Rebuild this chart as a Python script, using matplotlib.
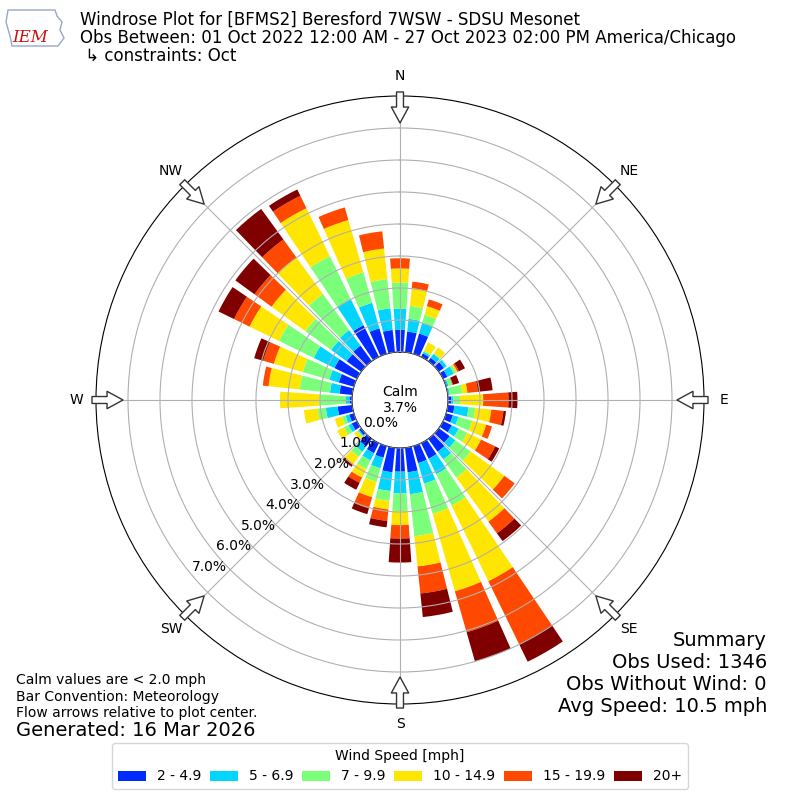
import numpy as np
import matplotlib
matplotlib.use("Agg")
import matplotlib.pyplot as plt
from matplotlib.patches import Patch, Polygon

# ---------------- data (percent of observations, cumulative per speed bin) -------------
directions = [0, 10, 20, 30, 40, 50, 60, 70, 80, 90, 100, 110, 120, 130, 140, 150, 160, 170,
              180, 190, 200, 210, 220, 230, 240, 250, 260, 270, 280, 290, 300, 310, 320, 330, 340, 350]

cum_2_4_9 = [0.70, 0.65, 0.66, 0.12, 0.13, 0.20, 0.15, 0.03, 0.02, 0.10, 0.21, 0.22, 0.30, 0.42, 0.50, 0.54, 0.55, 0.77,
             0.74, 0.77, 0.38, 0.35, 0.30, 0.08, 0.18, 0.15, 0.46, 0.08, 0.40, 0.49, 0.78, 0.56, 0.60, 1.10, 0.83, 0.70]
cum_5_6_9 = [1.35, 1.05, 1.00, 0.18, 0.28, 0.30, 0.37, 0.08, 0.06, 0.17, 0.65, 0.40, 0.54, 0.64, 0.80, 1.08, 1.22, 1.46,
             1.42, 1.36, 0.72, 0.60, 0.50, 0.12, 0.29, 0.27, 0.83, 0.19, 0.70, 0.80, 1.50, 1.16, 1.20, 2.00, 1.66, 1.38]
cum_7_9_9 = [2.17, 1.46, 1.27, 0.22, 0.31, 0.32, 0.45, 0.20, 0.46, 0.38, 0.87, 0.85, 0.84, 1.23, 1.50, 2.17, 2.20, 2.78,
             1.97, 1.67, 1.16, 0.90, 0.70, 0.15, 0.45, 0.38, 1.09, 1.02, 1.65, 1.66, 2.71, 2.16, 2.60, 3.50, 2.65, 2.30]
cum_10_14_9 = [2.61, 2.01, 1.55, 0.50, 0.53, 0.32, 0.50, 0.20, 0.62, 1.10, 1.37, 1.30, 1.32, 2.53, 3.20, 4.80, 4.72, 3.73,
               2.41, 1.94, 1.66, 1.20, 0.98, 0.27, 0.68, 0.62, 1.52, 2.25, 2.63, 2.60, 3.73, 3.46, 4.00, 5.17, 4.35, 3.26]
cum_15_19_9 = [2.93, 2.22, 1.77, 0.50, 0.53, 0.32, 0.55, 0.22, 0.95, 1.89, 1.75, 1.49, 1.81, 2.93, 3.65, 6.98, 6.05, 4.58,
               2.83, 2.30, 2.02, 1.38, 1.00, 0.27, 0.68, 0.62, 1.52, 2.25, 2.81, 2.95, 4.27, 4.12, 4.70, 5.60, 4.76, 3.80]
cum_20_plus = [2.93, 2.22, 1.77, 0.50, 0.53, 0.32, 0.76, 0.42, 1.41, 2.17, 1.83, 1.49, 1.95, 2.93, 3.95, 7.60, 7.00, 5.32,
               3.58, 2.50, 2.21, 1.62, 1.08, 0.27, 0.68, 0.62, 1.52, 2.25, 2.81, 3.24, 4.81, 4.86, 5.88, 5.82, 4.76, 3.80]

speed_labels = ["2 - 4.9", "5 - 6.9", "7 - 9.9", "10 - 14.9", "15 - 19.9", "20+"]
speed_colors = ["#002aff", "#00d4ff", "#7bff7b", "#ffe600", "#ff4800", "#800000"]
calm_pct = 3.7
r_ticks = [0, 1, 2, 3, 4, 5, 6, 7]
compass_labels = ["N", "NE", "E", "SE", "S", "SW", "W", "NW"]
compass_angles = [0, 45, 90, 135, 180, 225, 270, 315]

title_lines = ["Windrose Plot for [BFMS2] Beresford 7WSW - SDSU Mesonet",
               "Obs Between: 01 Oct 2022 12:00 AM - 27 Oct 2023 02:00 PM America/Chicago",
               " \u21b3 constraints: Oct"]
left_notes = ["Calm values are < 2.0 mph", "Bar Convention: Meteorology",
              "Flow arrows relative to plot center."]
generated = "Generated: 16 Mar 2026"
summary_lines = ["Summary", "Obs Used: 1346", "Obs Without Wind: 0", "Avg Speed: 10.5 mph"]

# ---------------- figure ----------------
W = H = 800
fig = plt.figure(figsize=(8, 8), dpi=100)

def fx(px):
    return px / W

def fy(py):
    return 1 - py / H

ax = fig.add_axes([0.12, 0.12, 0.76, 0.76], projection="polar")
ax.set_theta_zero_location("N")
ax.set_theta_direction(-1)
ax.set_rorigin(-1.5)
ax.set_ylim(0, 8)

cums = [cum_2_4_9, cum_5_6_9, cum_7_9_9, cum_10_14_9, cum_15_19_9, cum_20_plus]
theta = np.deg2rad(directions)
width = np.deg2rad(10) * 0.8
bottom = np.zeros(len(directions))
for vals, col, lab in zip(cums, speed_colors, speed_labels):
    top = np.array(vals)
    ax.bar(theta, top - bottom, width=width, bottom=bottom, color=col,
           edgecolor="none", label=lab, zorder=1)
    bottom = top

ax.set_xticks(np.deg2rad(compass_angles))
ax.set_xticklabels([])
ax.set_yticks(r_ticks)
ax.set_yticklabels([])
ax.set_axisbelow(False)
ax.grid(True, color="#b0b0b0", lw=0.8)

# radial labels
for k in r_ticks:
    ax.annotate(f"{k:.1f}%", xy=(np.deg2rad(230), k - 0.584), xytext=(2.5, -2.9),
                textcoords="offset points", ha="center", va="center", fontsize=10,
                annotation_clip=False)

# calm text
ax.text(0.5, 0.5, f"Calm\n{calm_pct:.1f}%", transform=ax.transAxes, ha="center",
        va="center", fontsize=10)

# compass labels and flow arrows
scale = 0.5 / 304.0
for lab, ang in zip(compass_labels, compass_angles):
    a = np.deg2rad(ang)
    s, c = np.sin(a), np.cos(a)
    ax.text(0.5 + 324 * scale * s, 0.5 + 324 * scale * c, lab, transform=ax.transAxes,
            ha="center", va="center", fontsize=10)
    tail = (0.5 + 308 * scale * s, 0.5 + 308 * scale * c)
    tip = (0.5 + 277 * scale * s, 0.5 + 277 * scale * c)
    ax.annotate("", xy=tip, xytext=tail, xycoords="axes fraction", textcoords="axes fraction",
                annotation_clip=False,
                arrowprops=dict(arrowstyle="simple,head_length=1.15,head_width=1.25,tail_width=0.5",
                                mutation_scale=10, fc="white", ec="#333333", lw=1,
                                shrinkA=0, shrinkB=0))

# title
for i, line in enumerate(title_lines):
    fig.text(fx(80), fy(20 + 18 * i), line, ha="left", va="center", fontsize=12)

# logo (approximation)
iowa = [(8, 10), (55, 10), (57, 16), (62, 22), (60, 30), (64, 38), (58, 46), (12, 46), (10, 36), (6, 22)]
fig.patches.append(Polygon([(fx(x), fy(y)) for x, y in iowa], closed=True, fill=False,
                           ec="#9aa6c8", lw=1, transform=fig.transFigure, figure=fig))
fig.text(fx(30), fy(38), "IEM", ha="center", va="center", fontsize=12, color="#cc1111",
         family="DejaVu Serif", style="italic")

# left notes
for i, line in enumerate(left_notes):
    fig.text(fx(16), fy(680 + 16.5 * i), line, ha="left", va="center", fontsize=10)
fig.text(fx(16), fy(730), generated, ha="left", va="center", fontsize=14)

# summary
for i, line in enumerate(summary_lines):
    fig.text(fx(767), fy(640 + 22 * i), line, ha="right", va="center", fontsize=14)

# legend
handles = [Patch(facecolor=c, edgecolor="none") for c in speed_colors]
fig.legend(handles, speed_labels, loc="lower center", bbox_to_anchor=(0.5, 0.005), ncol=6,
           title="Wind Speed [mph]", fontsize=10, title_fontsize=10, columnspacing=0.63,
           handletextpad=0.8)

fig.savefig("out.png", dpi=100)
